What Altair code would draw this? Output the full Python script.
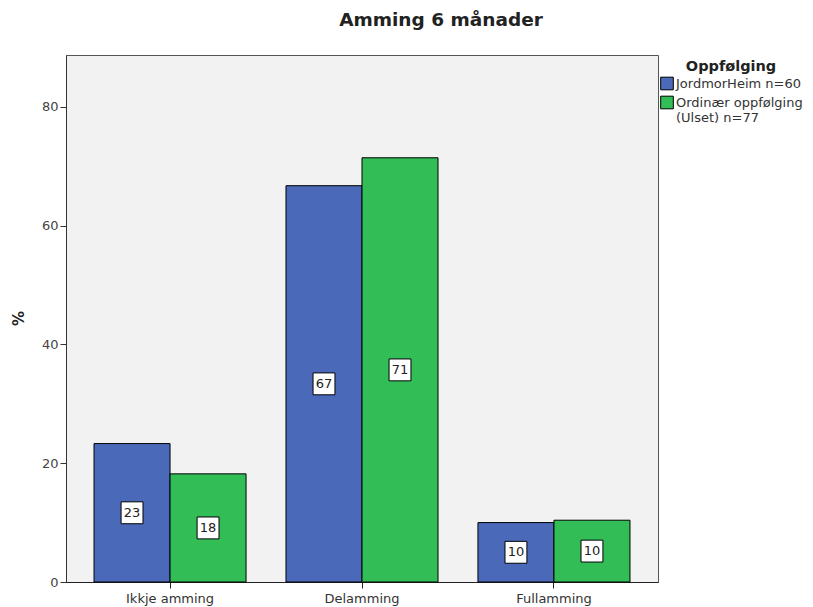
import altair as alt
import pandas as pd

categories = ["Ikkje amming", "Delamming", "Fullamming"]
groups = ["JordmorHeim n=60", "Ordinær oppfølging (Ulset) n=77"]
jordmor = [23.3, 66.7, 10.0]
ordinaer = [18.2, 71.4, 10.4]
colors = ["#4a69b8", "#32bd56"]
y_ticks = [0, 20, 40, 60, 80]

rows = []
for i, c in enumerate(categories):
    rows.append({"kat": c, "grp": groups[0], "pct": jordmor[i], "mid": jordmor[i] / 2})
    rows.append({"kat": c, "grp": groups[1], "pct": ordinaer[i], "mid": ordinaer[i] / 2})
df = pd.DataFrame(rows)

FONT = "DejaVu Sans"

x_enc = alt.X(
    "kat:N", sort=categories,
    scale=alt.Scale(paddingInner=0.208, paddingOuter=0.146),
    axis=alt.Axis(title=None, labelAngle=0, tickSize=6, tickColor="#222",
                  domainColor="#222", labelColor="#333", labelFontSize=13,
                  labelPadding=4, labelFont=FONT),
)
xo_enc = alt.XOffset("grp:N", sort=groups, scale=alt.Scale(paddingInner=0, paddingOuter=0))
y_axis = alt.Axis(title="%", values=y_ticks, grid=False, tickSize=6, tickColor="#333",
                  domainColor="#333", labelColor="#444", labelFontSize=13, labelFont=FONT,
                  titleFont=FONT, titleFontSize=15, titleFontWeight="bold",
                  titleColor="#222", titleX=-48, titleY=263, titleAngle=270,
                  titleBaseline="middle", titleAlign="center")
y_scale = alt.Scale(domain=[0, 88.7], nice=False, zero=True)

base = alt.Chart(df).encode(x=x_enc, xOffset=xo_enc)

bars = base.mark_bar(stroke="black", strokeWidth=1, opacity=1).encode(
    y=alt.Y("pct:Q", scale=y_scale, axis=y_axis),
    color=alt.Color(
        "grp:N", sort=groups,
        scale=alt.Scale(domain=groups, range=colors),
        legend=alt.Legend(
            title="Oppfølging", orient="none", legendX=594, legendY=5,
            titleFont=FONT, titleFontSize=14.5, titleFontWeight="bold", titleColor="#222",
            titleAnchor="middle", titlePadding=2,
            labelFont=FONT, labelFontSize=13, labelColor="#333", labelLimit=300,
            symbolType="square", symbolSize=160, symbolStrokeColor="black",
            symbolStrokeWidth=1, symbolOpacity=1, rowPadding=1, labelOffset=2,
            labelExpr="datum.label == 'Ordinær oppfølging (Ulset) n=77' ? ['Ordinær oppfølging', '(Ulset) n=77'] : datum.label",
        ),
    ),
)

boxes = base.mark_point(shape="square", filled=True, fill="white", stroke="black",
                        strokeWidth=1, size=480, opacity=1, fillOpacity=1, strokeOpacity=1).encode(
    y=alt.Y("mid:Q", scale=y_scale, axis=y_axis)
)

texts = base.mark_text(font=FONT, fontSize=13, color="#222", baseline="middle").encode(
    y=alt.Y("mid:Q", scale=y_scale, axis=y_axis),
    text=alt.Text("pct:Q", format=".0f"),
)

chart = alt.layer(bars, boxes, texts).properties(
    width=592, height=527,
    title=alt.TitleParams("Amming 6 månader", font=FONT, fontSize=18.5, fontWeight="bold",
                          color="#222", anchor="middle", dx=79, offset=26),
    autosize=alt.AutoSizeParams(type="none"),
    padding={"left": 58, "top": 47, "right": 147, "bottom": 26},
).configure_view(fill="#f2f2f2", stroke="#555", strokeWidth=1)

chart.save("out.html", embed_options={"renderer": "svg", "actions": False})
